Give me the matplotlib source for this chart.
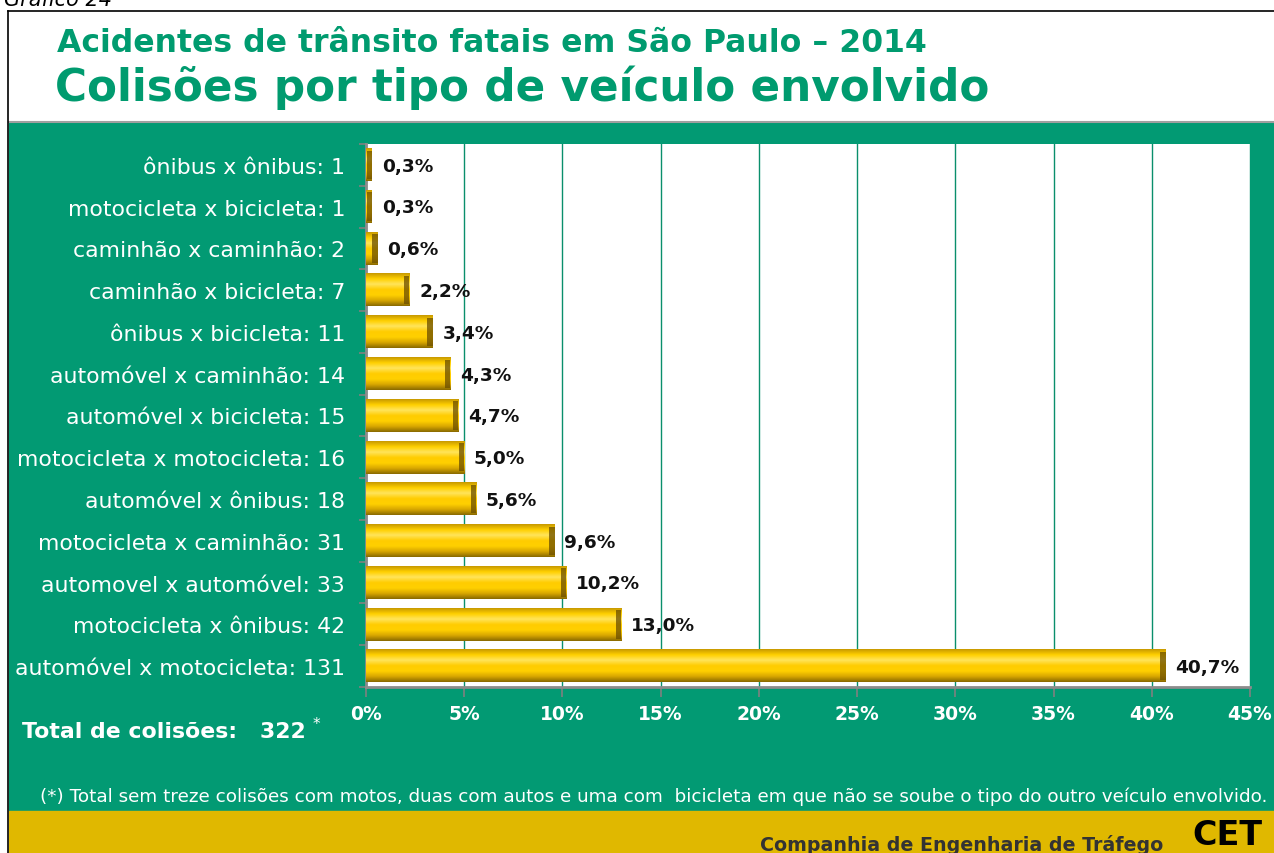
import numpy as np
import matplotlib
matplotlib.use("Agg")
import matplotlib.pyplot as plt
from matplotlib.patches import Rectangle
from matplotlib.colors import LinearSegmentedColormap

# data (top to bottom as in the chart)
categories = [
    "ônibus x ônibus", "motocicleta x bicicleta", "caminhão x caminhão",
    "caminhão x bicicleta", "ônibus x bicicleta", "automóvel x caminhão",
    "automóvel x bicicleta", "motocicleta x motocicleta", "automóvel x ônibus",
    "motocicleta x caminhão", "automovel x automóvel", "motocicleta x ônibus",
    "automóvel x motocicleta",
]
counts = [1, 1, 2, 7, 11, 14, 15, 16, 18, 31, 33, 42, 131]
percents = [0.3, 0.3, 0.6, 2.2, 3.4, 4.3, 4.7, 5.0, 5.6, 9.6, 10.2, 13.0, 40.7]
xticks = [0, 5, 10, 15, 20, 25, 30, 35, 40, 45]
total = 322

GREEN = "#029a73"
TITLE_GREEN = "#009b6f"
FOOT_YELLOW = "#e0b800"
W, H = 1274, 854

fig = plt.figure(figsize=(W / 100, H / 100), dpi=100)
fig.patch.set_facecolor("white")

def fx(px):
    return px / W

def fy(py):
    return 1 - py / H

# background panels
fig.add_artist(Rectangle((fx(9), fy(812)), fx(W - 9), fy(124) - fy(812),
                         transform=fig.transFigure, color=GREEN, zorder=0))
fig.add_artist(Rectangle((fx(9), 0), fx(W - 9), fy(812),
                         transform=fig.transFigure, color=FOOT_YELLOW, zorder=0))
fig.add_artist(plt.Line2D([fx(9), 1], [fy(123), fy(123)], transform=fig.transFigure,
                          color="#a0a0a0", lw=1.5, zorder=1))
# frame
fig.add_artist(plt.Line2D([fx(8), fx(8)], [0, fy(12)], transform=fig.transFigure,
                          color="black", lw=1.2, zorder=2))
fig.add_artist(plt.Line2D([fx(8), 1], [fy(12), fy(12)], transform=fig.transFigure,
                          color="black", lw=1.2, zorder=2))

fig.text(fx(4), fy(0), "Gráfico 24", fontsize=15, style="italic", color="black",
         ha="left", va="center")
fig.text(fx(57), fy(43), "Acidentes de trânsito fatais em São Paulo – 2014",
         fontsize=22.7, fontweight="bold", color=TITLE_GREEN, ha="left", va="center")
fig.text(fx(55), fy(88), "Colisões por tipo de veículo envolvido",
         fontsize=31.5, fontweight="bold", color=TITLE_GREEN, ha="left", va="center")

# chart
ax = fig.add_axes([fx(366), fy(688), fx(1250 - 366), fy(145) - fy(688)])
ax.set_facecolor("white")
n = len(categories)
ypos = np.arange(n)[::-1]
bar_h = 0.78

gold = LinearSegmentedColormap.from_list(
    "gold", ["#8a6a00", "#d9a800", "#ffd000", "#ffcc00", "#ffe45a", "#ffd000", "#c89a00"])
grad = np.linspace(0, 1, 64).reshape(-1, 1)
end_w = 0.28

for y, p in zip(ypos, percents):
    ax.imshow(grad, extent=(0, p, y - bar_h / 2, y + bar_h / 2), cmap=gold,
              aspect="auto", origin="lower", zorder=3, interpolation="bilinear")
    ew = min(end_w, p * 0.8)
    ax.add_patch(Rectangle((p - ew, y - bar_h / 2 + 0.05), ew, bar_h - 0.1,
                           color="#6b4e00", alpha=0.75, zorder=4, lw=0))
    ax.text(p + 0.5, y - 0.02, f"{p:.1f}%".replace(".", ","), fontsize=13.3,
            fontweight="bold", color="#111111", ha="left", va="center", zorder=5)

ax.set_xlim(0, 45)
ax.set_ylim(-0.5, n - 0.5)
ax.set_xticks(xticks)
ax.set_xticklabels([f"{t}%" for t in xticks], color="white", fontsize=13.5,
                   fontweight="bold")
ax.set_yticks(ypos)
ax.set_yticklabels([f"{c}: {v}" for c, v in zip(categories, counts)], color="white",
                   fontsize=15.8)
ax.set_yticks(np.arange(-0.5, n, 1), minor=True)
ax.tick_params(axis="y", which="major", length=0, pad=15)
ax.tick_params(axis="y", which="minor", length=5, color="#808080", width=1.2)
ax.tick_params(axis="x", length=7, color="#808080", width=1.2, pad=5)
ax.grid(axis="x", color="#0a8f6c", lw=1, zorder=1)
ax.set_axisbelow(True)
for s in ["top", "right"]:
    ax.spines[s].set_visible(False)
for s in ["left", "bottom"]:
    ax.spines[s].set_color("#8c8c8c")
    ax.spines[s].set_linewidth(2)

fig.text(fx(22), fy(732), f"Total de colisões:   {total}", fontsize=15.8,
         fontweight="bold", color="white", ha="left", va="center")
fig.text(fx(313), fy(724), "*", fontsize=11, color="white", ha="left", va="center")
fig.text(fx(40), fy(797),
         "(*) Total sem treze colisões com motos, duas com autos e uma com  bicicleta "
         "em que não se soube o tipo do outro veículo envolvido.",
         fontsize=13.2, color="white", ha="left", va="center")

fig.text(fx(1163), fy(845), "Companhia de Engenharia de Tráfego", fontsize=13.7,
         fontweight="bold", color="#333333", ha="right", va="center")
fig.text(fx(1192), fy(852), "CET", fontsize=24, fontweight="heavy", color="black",
         ha="left", va="bottom")

fig.savefig("out.png", dpi=100)
